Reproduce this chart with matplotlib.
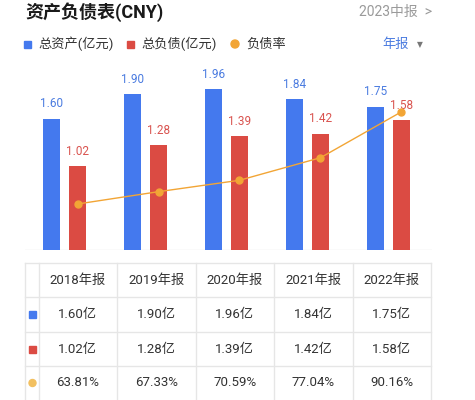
import matplotlib
matplotlib.use("Agg")
import matplotlib.pyplot as plt
from matplotlib.patches import Rectangle, Circle
from matplotlib.lines import Line2D

plt.rcParams['font.family'] = ['Roboto', 'Noto Sans CJK SC', 'DejaVu Sans']

years = ["2018年报", "2019年报", "2020年报", "2021年报", "2022年报"]
assets = [1.60, 1.90, 1.96, 1.84, 1.75]
liabilities = [1.02, 1.28, 1.39, 1.42, 1.58]
ratio = [63.81, 67.33, 70.59, 77.04, 90.16]

BLUE = "#4479ee"
RED = "#db4b43"
ORANGE = "#f2a535"
TXT = "#333333"
GRID = "#e6e6e6"

W, H = 475, 400
fig = plt.figure(figsize=(W / 100, H / 100), dpi=100)

# overlay axes in pixel coordinates (y downward)
ov = fig.add_axes([0, 0, 1, 1])
ov.set_xlim(0, W)
ov.set_ylim(H, 0)
ov.axis("off")

ov.text(25, 12, "资产负债表(CNY)", fontsize=13, fontweight="bold", color="#1a1a1a",
        va="center", ha="left")
ov.text(432, 12, "2023中报  >", fontsize=10, color="#9a9a9a", va="center", ha="right")

# legend row
ly = 44
ov.add_patch(Rectangle((24, ly - 3.5), 7, 7, color=BLUE))
ov.text(38, ly, "总资产(亿元)", fontsize=9.5, color=TXT, va="center", ha="left")
ov.add_patch(Rectangle((127, ly - 3.5), 7, 7, color=RED))
ov.text(141, ly, "总负债(亿元)", fontsize=9.5, color=TXT, va="center", ha="left")
ov.add_patch(Circle((235, ly), 4, color=ORANGE))
ov.text(246, ly, "负债率", fontsize=9.5, color=TXT, va="center", ha="left")
ov.text(382, ly, "年报", fontsize=9.5, color="#4a7be0", va="center", ha="left")
ov.text(420, ly + 1, "▼", fontsize=5.5, color="#777777", va="center", ha="center",
        family=['DejaVu Sans'])

# bar axes: pixel x 25..432, y 70..250
ax = fig.add_axes([25 / W, (H - 250) / H, (432 - 25) / W, 180 / H])
ax.set_xlim((25 - 64.5) / 81, (432 - 64.5) / 81)
ax.set_ylim(0, 180 / 82)
ax.axis("off")
x = list(range(len(years)))
bw = 17 / 81
off = 13 / 81
ax.bar([i - off for i in x], assets, width=bw, color=BLUE, zorder=2)
ax.bar([i + off for i in x], liabilities, width=bw, color=RED, zorder=2)
for i in x:
    ax.annotate(f"{assets[i]:.2f}", (i - off, assets[i]), xytext=(0, 15),
                textcoords="offset pixels", ha="center", va="center",
                fontsize=8.5, color="#4a7be0", zorder=5)
    ax.annotate(f"{liabilities[i]:.2f}", (i + off, liabilities[i]), xytext=(0, 15),
                textcoords="offset pixels", ha="center", va="center",
                fontsize=8.5, color="#d9534f", zorder=5)
ax.axhline(0, color=GRID, lw=1, zorder=1)

ax2 = ax.twinx()
ax2.set_ylim(63.81 - 46 / 3.5, 63.81 + 134 / 3.5)
ax2.axis("off")
ax2.plot([i + off for i in x], ratio, color=ORANGE, lw=1, marker="o",
         markersize=5, zorder=4)

# table
cols = [25, 38.7, 117, 195.7, 274, 352.7, 431]
rows = [263, 297, 332, 366, 400]
for yv in rows[:-1]:
    ov.add_line(Line2D([cols[0], cols[-1]], [yv, yv], color=GRID, lw=1))
for xv in cols:
    ov.add_line(Line2D([xv, xv], [rows[0], rows[-1]], color=GRID, lw=1))

cx = [(cols[j] + cols[j + 1]) / 2 for j in range(1, 6)]
ry = [(rows[k] + rows[k + 1]) / 2 for k in range(4)]
for j in range(5):
    ov.text(cx[j], ry[0], years[j], fontsize=9.5, color=TXT, ha="center", va="center")
    ov.text(cx[j], ry[1], f"{assets[j]:.2f}亿", fontsize=9.5, color=TXT, ha="center", va="center")
    ov.text(cx[j], ry[2], f"{liabilities[j]:.2f}亿", fontsize=9.5, color=TXT, ha="center", va="center")
    ov.text(cx[j], ry[3], f"{ratio[j]:.2f}%", fontsize=9.5, color=TXT, ha="center", va="center")
ov.add_patch(Rectangle((29, ry[1] - 3.5), 7, 7, color=BLUE))
ov.add_patch(Rectangle((29, ry[2] - 3.5), 7, 7, color=RED))
ov.add_patch(Circle((32.5, ry[3]), 3.5, color="#f2c060"))

fig.savefig("out.png", dpi=100)
